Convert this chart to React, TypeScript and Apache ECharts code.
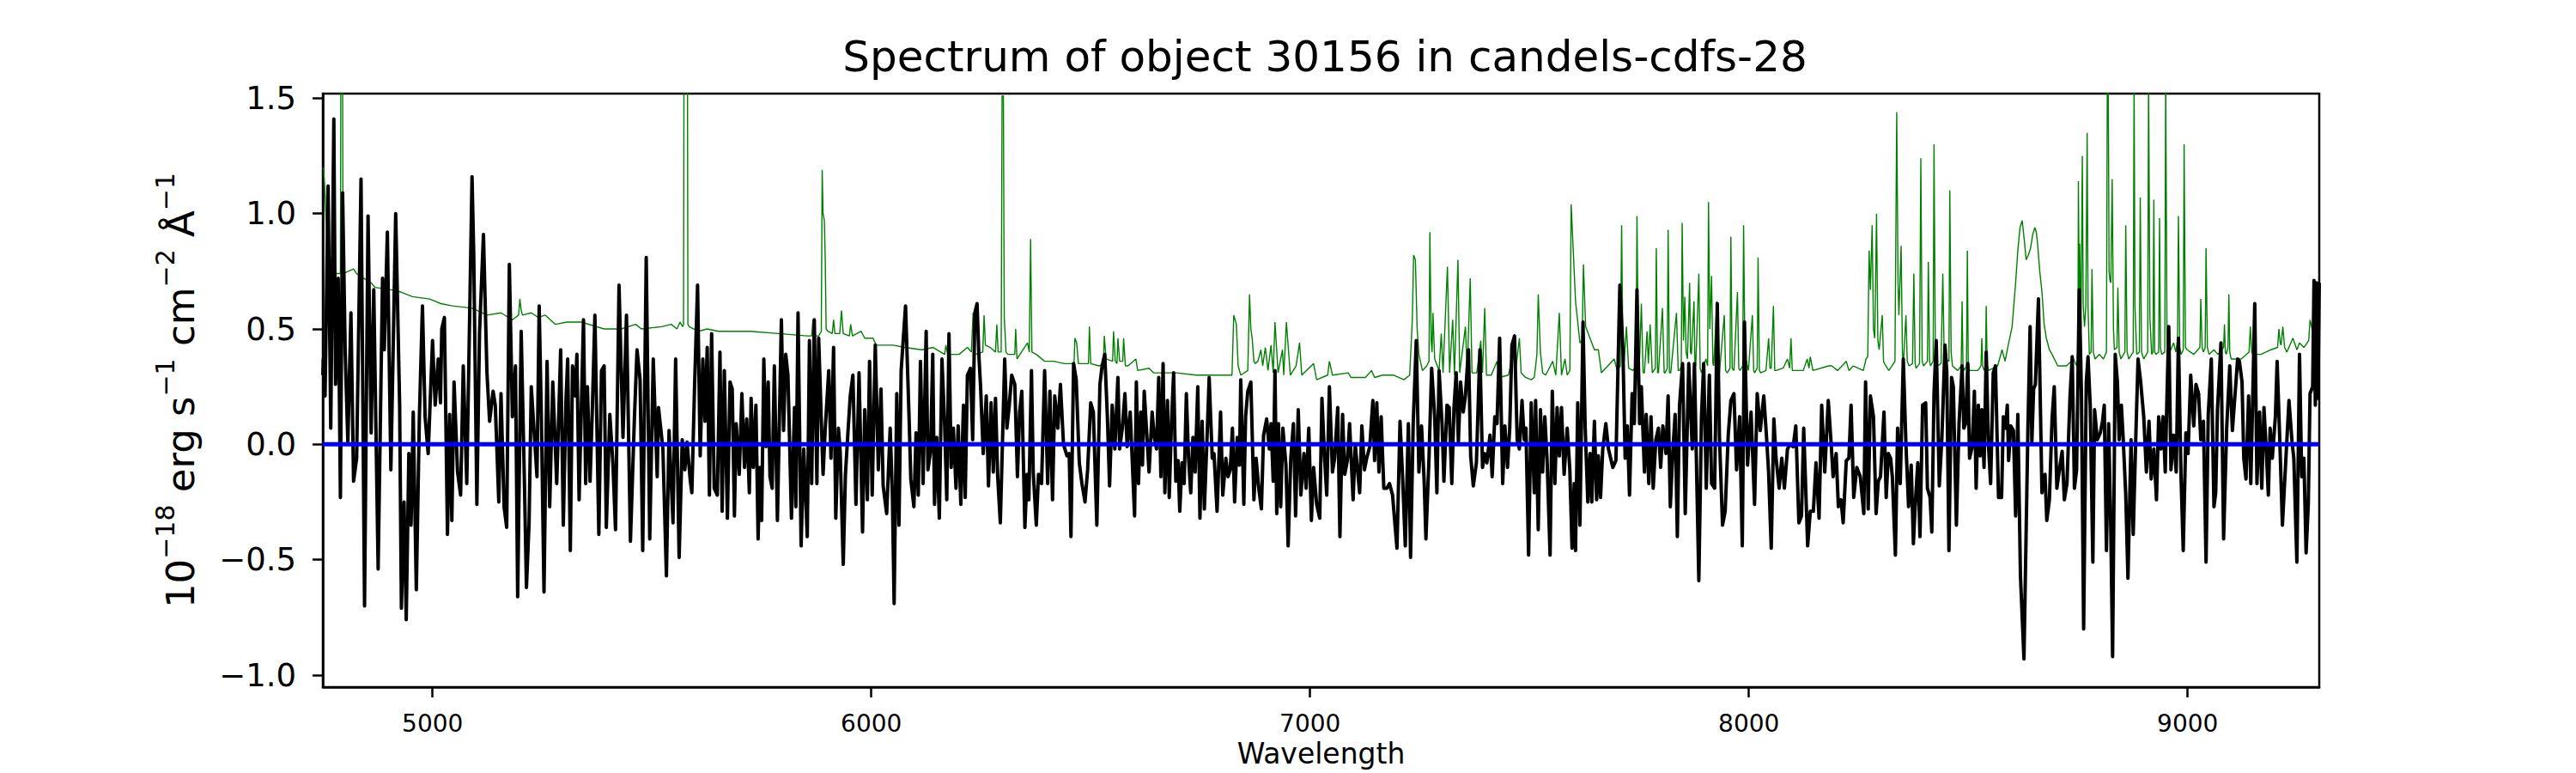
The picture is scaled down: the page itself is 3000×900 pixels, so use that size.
import React, { useEffect, useRef } from "react";
import * as echarts from "echarts";

const FONT = "DejaVu Sans";
const TITLE = "Spectrum of object 30156 in candels-cdfs-28";
const X_NAME = "Wavelength";
const X_MIN = 4750;
const X_MAX = 9300;
const Y_MIN = -1.052;
const Y_MAX = 1.52;
const X_TICKS = [5000, 6000, 7000, 8000, 9000];
const Y_TICKS = [-1, -0.5, 0, 0.5, 1, 1.5];
const ZERO_LEVEL = 0;

// Object spectrum (black), [wavelength, flux]
const objectA: [number, number][] = [
  [4750,0.30],[4751,0.37],[4755,0.21],[4762,1.12],[4768,0.07],[4775,1.41],[4779,0.26],[4785,0.72],[4790,-0.23],[4795,1.09],[4801,0.39],[4807,0.01],[4814,0.57],[4820,-0.16],[4827,-0.06],[4837,1.15],[4845,-0.70],[4853,0.99],[4860,0.05],[4866,0.67],[4876,-0.54],[4886,0.72],[4890,0.41],[4897,0.92],[4905,-0.11],[4910,0.39],[4916,1.00],[4925,0.17],[4929,-0.71],[4935,-0.25],[4940,-0.76],[4946,-0.04],[4951,-0.35],[4956,0.14],[4963,-0.63],[4970,0.12],[4977,0.60],[4983,0.12],[4990,-0.04],[5000,0.45],[5006,0.17],[5013,0.37],[5018,0.18],[5021,0.50],[5027,0.55],[5034,-0.39],[5039,0.13],[5044,-0.33],[5049,0.27],[5057,-0.12],[5064,-0.22],[5070,0.34],[5078,-0.17],[5090,1.16],[5094,0.81],[5101,-0.26],[5107,0.48],[5116,0.91],[5124,0.31],[5130,0.10],[5138,0.23],[5143,0.17],[5151,-0.25],[5156,0.22],[5163,-0.27],[5169,-0.36],[5175,0.78],[5182,0.12],[5189,0.34],[5194,-0.66],[5202,0.49],[5209,-0.13],[5214,-0.62],[5220,-0.34],[5225,0.25],[5231,0.07],[5238,-0.14],[5243,0.60],[5248,0.12],[5254,-0.64],[5261,0.36],[5267,-0.27],[5274,0.27],[5283,-0.17],[5292,0.41],[5298,-0.35],[5304,0.19],[5308,0.37],[5314,-0.46],[5319,0.34],[5325,0.21],[5329,0.39],[5334,-0.24],[5344,0.54],[5349,-0.17],[5353,0.25],[5359,-0.16],[5364,0.14],[5370,0.56],[5379,-0.39],[5385,0.32],[5391,0.34],[5396,-0.36],[5404,0.13],[5411,-0.08],[5417,-0.37],[5425,0.69],[5434,0.03],[5442,0.56],[5451,-0.42],[5460,0.11],[5466,0.41],[5473,0.28],[5479,-0.46],[5487,0.81],[5495,-0.41],[5503,0.37],[5512,-0.14],[5515,0.16],[5525,-0.02],[5533,-0.57],[5539,0.06],[5548,-0.34],[5554,0.37],[5562,-0.49],[5569,0.02],[5575,-0.11],[5580,0.01],[5587,-0.15],[5591,-0.21],[5597,0.24],[5604,0.69],[5610,-0.05],[5616,0.37],[5621,0.10],[5626,0.42],[5631,-0.22],[5636,0.48],[5642,-0.19],[5649,-0.22],[5655,0.40],[5660,-0.29],[5665,0.32],[5672,-0.32],[5678,0.27]
];
const objectB: [number, number][] = [
  [5683,0.24],[5688,-0.31],[5692,0.09],[5699,-0.13],[5705,0.22],[5711,-0.10],[5716,0.11],[5722,-0.21],[5726,0.20],[5731,-0.10],[5737,0.17],[5742,-0.41],[5746,-0.10],[5750,-0.33],[5755,0.37],[5760,-0.01],[5765,0.27],[5769,-0.14],[5774,-0.19],[5779,0.34],[5786,-0.33],[5795,0.54],[5800,0.06],[5805,0.39],[5810,0.30],[5818,-0.32],[5825,0.16],[5828,-0.27],[5833,0.57],[5840,-0.44],[5846,-0.02],[5854,-0.40],[5859,0.45],[5864,-0.17],[5870,0.54],[5876,-0.17],[5880,0.46],[5890,-0.13],[5895,0.07],[5903,0.32],[5908,-0.06],[5914,0.42],[5919,-0.32],[5925,0.07],[5929,-0.03],[5936,-0.52],[5941,-0.13],[5947,0.06],[5952,0.21],[5958,0.30],[5965,-0.26],[5972,0.31],[5980,-0.38],[5985,0.15],[5991,-0.24],[5996,0.36],[6002,-0.22],[6009,0.43],[6016,-0.11],[6022,0.24],[6027,-0.18],[6035,-0.30],[6043,0.07],[6048,-0.22],[6052,-0.69],[6058,0.22],[6063,-0.35],[6068,0.32],[6078,0.60],[6086,0.12],[6090,-0.15],[6097,-0.27],[6102,0.05],[6107,-0.22],[6112,0.36],[6118,-0.17],[6125,0.49],[6129,-0.11],[6135,-0.03],[6140,0.39],[6144,-0.26],[6149,0.03],[6155,-0.32],[6161,0.37],[6167,0.09],[6172,-0.24],[6177,0.48],[6182,-0.10],[6187,0.07],[6193,-0.19],[6198,0.08],[6204,-0.26],[6210,0.17],[6214,-0.23],[6219,0.30],[6226,0.33],[6231,0.02],[6236,0.57],[6241,0.61],[6245,0.39],[6249,0.25],[6255,-0.04],[6262,0.21],[6267,-0.18],[6273,0.18],[6278,-0.12],[6283,0.20],[6288,-0.14],[6294,-0.34],[6304,0.37],[6309,0.07],[6314,0.16],[6320,0.30],[6327,0.26],[6333,-0.14],[6338,0.14],[6343,0.23],[6350,-0.36],[6355,-0.13],[6359,-0.24],[6365,0.32],[6369,-0.12],[6376,-0.35],[6381,-0.13],[6388,-0.17],[6395,0.32],[6402,-0.17],[6407,0.23],[6413,-0.24],[6418,0.21],[6425,0.07],[6431,0.26],[6438,0.00],[6446,-0.05],[6451,-0.04],[6455,-0.40],[6461,0.35],[6467,0.28],[6474,-0.08],[6480,-0.17],[6487,-0.25],[6493,-0.11],[6500,0.18],[6506,0.14],[6514,-0.35],[6521,0.26],[6526,0.34],[6532,0.39],[6538,0.12],[6543,-0.18],[6549,0.17],[6555,-0.02],[6562,0.29],[6566,-0.02],[6572,0.07],[6578,0.22],[6583,-0.01],[6590,0.14]
];
const objectC: [number, number][] = [
  [6600,-0.31],[6604,0.27],[6609,-0.17],[6614,0.14],[6618,-0.09],[6622,0.23],[6627,0.07],[6633,-0.12],[6640,0.14],[6645,0.03],[6650,-0.02],[6655,0.29],[6660,-0.14],[6665,0.35],[6669,-0.21],[6675,0.19],[6679,-0.23],[6684,0.09],[6689,0.31],[6694,-0.16],[6699,-0.07],[6703,-0.29],[6708,-0.08],[6713,-0.17],[6718,0.22],[6723,-0.06],[6728,-0.21],[6733,0.03],[6738,-0.12],[6744,0.25],[6749,-0.32],[6754,0.10],[6759,-0.28],[6765,0.02],[6770,0.29],[6777,-0.06],[6781,-0.04],[6788,-0.29],[6796,0.14],[6801,-0.22],[6808,-0.06],[6813,-0.14],[6818,-0.11],[6823,0.07],[6828,-0.25],[6834,0.03],[6839,-0.09],[6842,0.28],[6849,-0.26],[6853,0.12],[6858,0.23],[6865,0.27],[6872,-0.24],[6877,-0.06],[6883,-0.19],[6889,-0.28],[6894,0.04],[6901,0.11],[6907,-0.02],[6911,0.09],[6916,-0.16],[6920,0.32],[6924,-0.30],[6928,0.09],[6933,-0.27],[6938,0.07],[6945,-0.09],[6950,-0.44],[6956,-0.06],[6962,0.09],[6967,-0.31],[6973,0.15],[6979,-0.22],[6986,-0.04],[6991,-0.19],[6997,0.07],[7003,-0.33],[7008,-0.10],[7015,-0.26],[7022,-0.32],[7027,0.20],[7033,-0.06],[7038,-0.22],[7044,0.25],[7051,-0.12],[7056,-0.06],[7063,0.16],[7068,-0.40],[7074,0.13],[7079,-0.13],[7085,-0.07],[7090,0.09],[7098,-0.24],[7103,0.00],[7108,-0.11],[7113,-0.21],[7118,0.08],[7124,-0.11],[7129,-0.06],[7136,-0.01],[7143,0.19],[7147,-0.07],[7152,0.18],[7157,-0.12],[7162,0.12],[7168,-0.19],[7175,-0.19],[7181,-0.17],[7188,-0.22],[7191,-0.29],[7198,-0.45],[7205,0.10],[7211,-0.15],[7217,-0.44],[7224,0.09],[7229,-0.49],[7235,0.09],[7242,0.45],[7248,-0.12],[7254,0.08],[7260,-0.16],[7264,-0.41],[7271,-0.06],[7277,0.33],[7284,0.12],[7289,-0.21],[7294,0.32],[7301,0.08],[7305,-0.16],[7312,0.17],[7317,0.16],[7323,-0.17],[7328,0.16],[7333,0.31],[7338,0.01],[7343,0.27],[7349,0.14],[7354,0.21],[7361,0.41],[7366,-0.05],[7372,-0.18],[7379,-0.08],[7387,0.41],[7393,-0.10],[7398,-0.04],[7403,-0.08],[7410,0.04],[7415,-0.14],[7421,0.12],[7426,0.09],[7432,0.46],[7439,-0.17],[7444,0.08],[7450,-0.10],[7455,0.07],[7460,0.43],[7466,0.47],[7472,0.02],[7477,-0.02],[7483,0.19],[7488,0.02],[7492,0.07],[7498,-0.48],[7504,0.18],[7511,-0.21]
];
const objectD: [number, number][] = [
  [7514,0.19],[7520,-0.37],[7525,0.15],[7530,-0.12],[7535,0.12],[7540,-0.06],[7547,-0.48],[7552,0.23],[7558,-0.17],[7563,0.16],[7568,-0.05],[7573,0.16],[7579,-0.13],[7586,0.07],[7592,-0.11],[7597,-0.45],[7602,-0.17],[7605,-0.46],[7610,0.18],[7615,-0.35],[7622,0.53],[7627,0.07],[7633,-0.25],[7638,-0.04],[7642,-0.25],[7648,0.10],[7653,-0.24],[7657,-0.05],[7662,-0.23],[7667,-0.02],[7674,0.09],[7680,-0.02],[7690,-0.10],[7697,-0.07],[7706,0.69],[7713,0.41],[7718,-0.06],[7723,0.08],[7728,-0.22],[7734,0.22],[7739,0.09],[7745,0.67],[7751,0.09],[7755,0.25],[7762,-0.12],[7766,0.13],[7772,-0.17],[7777,0.12],[7782,-0.19],[7788,0.02],[7794,0.07],[7799,-0.10],[7804,0.08],[7811,-0.04],[7816,0.21],[7821,-0.27],[7827,-0.02],[7832,0.13],[7837,-0.40],[7842,0.17],[7849,0.35],[7855,-0.30],[7863,0.35],[7871,-0.02],[7876,0.35],[7886,-0.59],[7892,0.12],[7897,0.35],[7903,-0.19],[7910,0.30],[7915,-0.17],[7922,-0.19],[7928,0.61],[7933,0.03],[7940,-0.35],[7946,-0.29],[7953,0.04],[7959,0.19],[7966,0.22],[7972,-0.11],[7979,0.12],[7985,-0.44],[7990,0.53],[7997,-0.09],[8005,0.14],[8013,-0.26],[8019,0.22],[8026,0.06],[8034,0.21],[8040,0.04],[8045,-0.12],[8051,-0.45],[8057,0.11],[8062,-0.06],[8069,-0.19],[8075,-0.06],[8081,-0.19],[8088,-0.02],[8094,0.00],[8101,-0.01],[8107,0.08],[8114,-0.34],[8120,-0.31],[8125,0.07],[8134,-0.44],[8140,-0.29],[8147,-0.29],[8153,-0.08],[8160,-0.32],[8166,0.17],[8173,-0.12],[8181,0.19],[8188,-0.01],[8192,-0.14],[8199,-0.04],[8204,-0.27],[8210,-0.24],[8215,-0.34],[8222,-0.07],[8228,-0.06],[8233,0.17],[8239,-0.23],[8246,-0.10],[8254,-0.14],[8262,-0.30],[8266,0.27],[8272,-0.28],[8277,0.21],[8284,0.12],[8290,-0.30],[8295,-0.16],[8300,-0.14],[8308,0.14],[8313,-0.23],[8318,-0.04],[8323,-0.06],[8327,-0.14],[8334,-0.48],[8339,0.07],[8345,-0.17],[8352,0.37],[8358,0.00],[8364,-0.27],[8370,-0.09],[8375,-0.43],[8379,-0.27],[8385,-0.08],[8390,-0.40],[8396,0.17],[8403,0.18],[8407,-0.19],[8413,-0.23],[8417,-0.38],[8422,0.22],[8427,0.45],[8434,-0.18]
];
const objectE: [number, number][] = [
  [8440,0.03],[8447,0.43],[8451,0.32],[8456,-0.46],[8462,0.29],[8466,0.25],[8473,-0.35],[8479,0.09],[8486,0.34],[8490,0.07],[8494,0.09],[8499,0.35],[8503,-0.06],[8509,-0.01],[8514,0.23],[8518,-0.19],[8523,0.17],[8527,-0.05],[8531,0.15],[8536,-0.10],[8541,0.40],[8546,0.00],[8551,-0.17],[8557,0.31],[8562,0.34],[8569,-0.23],[8576,-0.23],[8580,0.12],[8585,0.07],[8589,0.17],[8592,-0.07],[8597,0.08],[8603,0.06],[8608,-0.31],[8613,0.13],[8619,-0.57],[8627,-0.93],[8636,0.07],[8641,0.51],[8645,0.01],[8649,0.24],[8653,0.26],[8660,0.63],[8668,-0.21],[8675,-0.13],[8679,-0.33],[8685,-0.24],[8691,0.11],[8696,0.25],[8702,-0.19],[8707,-0.12],[8714,-0.03],[8719,-0.24],[8725,-0.17],[8732,0.21],[8737,0.38],[8742,-0.19],[8747,-0.11],[8753,0.67],[8758,0.22],[8763,-0.80],[8769,0.27],[8773,0.38],[8778,0.17],[8784,-0.51],[8788,0.15],[8794,0.02],[8801,0.05],[8806,0.10],[8810,0.17],[8815,-0.46],[8820,0.09],[8825,-0.38],[8829,-0.92],[8835,0.39],[8840,0.27],[8844,0.02],[8849,0.17],[8853,0.03],[8859,-0.22],[8864,-0.58],[8871,0.02],[8876,-0.39],[8882,0.04],[8887,0.37],[8893,0.27],[8900,0.12],[8906,-0.12],[8912,0.10],[8917,-0.15],[8923,-0.02],[8929,-0.24],[8934,0.12],[8939,-0.02],[8944,0.12],[8949,-0.12],[8953,0.21],[8957,0.51],[8962,-0.11],[8968,0.04],[8974,-0.12],[8979,0.46],[8985,-0.14],[8990,-0.46],[8996,0.05],[9001,-0.04],[9007,0.30],[9014,0.08],[9019,0.26],[9025,0.22],[9030,0.02],[9036,0.10],[9042,-0.51],[9047,0.13],[9054,0.37],[9060,-0.27],[9064,-0.21],[9068,0.15],[9076,0.44],[9082,-0.41],[9089,0.07],[9096,0.34],[9102,0.06],[9107,0.19],[9114,0.37],[9118,0.36],[9124,0.27],[9128,-0.06],[9133,-0.15],[9139,0.21],[9144,-0.17],[9153,0.61],[9158,-0.17],[9164,0.14],[9169,-0.19],[9174,0.16],[9179,-0.02],[9184,-0.22],[9188,0.07],[9193,-0.06],[9200,0.12],[9204,0.36],[9210,0.02],[9216,-0.35],[9224,-0.06],[9231,0.19],[9238,0.01],[9242,-0.06],[9249,-0.51],[9255,0.39],[9260,-0.14],[9265,-0.06],[9270,-0.47],[9275,-0.26],[9279,0.22],[9285,0.25],[9288,0.71],[9291,0.17],[9294,0.70],[9297,0.20],[9300,0.70]
];

// Sky / noise spectrum (green), [wavelength, flux]
const skyA: [number, number][] = [
  [4750,1.20],[4752,1.19],[4755,1.09],[4760,0.85],[4765,0.74],[4790,0.74],[4791,1.6],[4795,1.6],[4796,0.74],[4820,0.76],[4827,0.74],[4843,0.72],[4860,0.70],[4869,0.68],[4905,0.67],[4928,0.66],[4954,0.64],[4993,0.63],[5019,0.61],[5045,0.60],[5091,0.59],[5124,0.56],[5156,0.57],[5182,0.54],[5196,0.56],[5199,0.63],[5202,0.58],[5205,0.56],[5225,0.57],[5241,0.55],[5257,0.56],[5280,0.52],[5306,0.53],[5339,0.53],[5391,0.50],[5430,0.50],[5463,0.52],[5476,0.50],[5522,0.51],[5544,0.52],[5557,0.50],[5564,0.53],[5570,0.51],[5572,0.52],[5573,1.6],[5581,1.6],[5582,0.52],[5585,0.51],[5606,0.49],[5626,0.50],[5652,0.49]
];
const skyB: [number, number][] = [
  [5724,0.49],[5789,0.48],[5854,0.47],[5864,0.47],[5867,0.54],[5870,0.47],[5880,0.47],[5886,0.49],[5888,1.19],[5890,1.0],[5893,0.97],[5895,0.80],[5897,0.50],[5901,0.49],[5911,0.48],[5914,0.54],[5917,0.48],[5928,0.48],[5932,0.58],[5936,0.48],[5950,0.47],[5953,0.52],[5957,0.47],[5977,0.49],[5985,0.46],[6004,0.46],[6011,0.43],[6050,0.43],[6076,0.42],[6115,0.41],[6141,0.42],[6167,0.39],[6170,0.43],[6174,0.39],[6200,0.39],[6219,0.42],[6228,0.40],[6232,0.57],[6236,0.39],[6254,0.40],[6257,0.56],[6260,0.43],[6271,0.42],[6283,0.40],[6286,0.52],[6289,0.40],[6296,0.40],[6298,1.51],[6301,1.51],[6303,0.55],[6307,0.40],[6311,0.39],[6327,0.39],[6329,0.50],[6332,0.37],[6356,0.44],[6360,0.40],[6363,0.89],[6366,0.40],[6376,0.39],[6395,0.36],[6415,0.36],[6441,0.35],[6462,0.35],[6464,0.46],[6468,0.44],[6472,0.35],[6495,0.35],[6497,0.51],[6500,0.35],[6519,0.34],[6529,0.35],[6531,0.47],[6535,0.37],[6550,0.36],[6552,0.49],[6556,0.36],[6560,0.35],[6562,0.46],[6566,0.36],[6573,0.36],[6575,0.46],[6579,0.34],[6585,0.34]
];
const skyC: [number, number][] = [
  [6603,0.37],[6607,0.32],[6633,0.33],[6643,0.31],[6663,0.31],[6695,0.31],[6741,0.30],[6774,0.30],[6822,0.30],[6826,0.56],[6829,0.54],[6832,0.52],[6836,0.34],[6842,0.30],[6858,0.32],[6862,0.65],[6865,0.50],[6868,0.46],[6872,0.36],[6875,0.35],[6881,0.36],[6888,0.41],[6892,0.34],[6898,0.42],[6904,0.32],[6911,0.43],[6916,0.31],[6920,0.53],[6927,0.31],[6937,0.41],[6940,0.30],[6946,0.53],[6955,0.30],[6968,0.34],[6976,0.44],[6981,0.30],[7008,0.35],[7015,0.28],[7040,0.30],[7044,0.36],[7051,0.30],[7087,0.31],[7093,0.29],[7126,0.29],[7140,0.32],[7147,0.29],[7165,0.30],[7191,0.30],[7214,0.28],[7227,0.30],[7233,0.54],[7236,0.82],[7240,0.80],[7244,0.50],[7248,0.39],[7256,0.32],[7266,0.34],[7271,0.36],[7273,0.92],[7276,0.45],[7278,0.40],[7280,0.57],[7284,0.37],[7294,0.32],[7299,0.48],[7303,0.31],[7313,0.77],[7318,0.31],[7325,0.54],[7329,0.30],[7337,0.80],[7341,0.31],[7354,0.51],[7358,0.31],[7365,0.72],[7369,0.31],[7380,0.31],[7389,0.45],[7393,0.31],[7398,0.59],[7402,0.30],[7413,0.30],[7426,0.36],[7431,0.29],[7452,0.30],[7464,0.41],[7468,0.31],[7477,0.46],[7481,0.31],[7491,0.29],[7504,0.28]
];
const skyD: [number, number][] = [
  [7511,0.29],[7517,0.39],[7520,0.65],[7525,0.40],[7530,0.31],[7537,0.30],[7553,0.36],[7560,0.30],[7568,0.57],[7573,0.30],[7581,0.37],[7586,0.30],[7592,0.32],[7595,1.04],[7600,0.83],[7605,0.62],[7615,0.44],[7620,0.45],[7623,0.78],[7628,0.51],[7638,0.46],[7648,0.41],[7657,0.41],[7664,0.31],[7693,0.37],[7700,0.32],[7707,0.34],[7710,0.95],[7713,0.40],[7716,0.36],[7721,0.51],[7726,0.33],[7736,0.32],[7743,0.34],[7745,0.99],[7748,0.40],[7751,0.37],[7755,0.61],[7759,0.31],[7762,0.31],[7768,0.49],[7771,0.35],[7775,0.52],[7780,0.31],[7787,0.33],[7789,0.85],[7792,0.31],[7794,0.31],[7803,0.59],[7807,0.31],[7809,0.31],[7814,0.33],[7816,0.93],[7819,0.31],[7822,0.31],[7835,0.57],[7839,0.32],[7842,0.32],[7846,0.34],[7848,0.96],[7851,0.45],[7854,0.64],[7857,0.40],[7860,0.37],[7865,0.70],[7867,0.40],[7869,0.39],[7875,0.62],[7877,0.36],[7879,0.34],[7886,0.74],[7889,0.33],[7892,0.31],[7902,0.37],[7906,0.34],[7908,1.05],[7911,0.50],[7915,0.73],[7918,0.35],[7920,0.34],[7927,0.62],[7930,0.32],[7933,0.31],[7944,0.56],[7947,0.32],[7951,0.31],[7957,0.33],[7959,0.90],[7962,0.33],[7966,0.32],[7974,0.66],[7977,0.33],[7980,0.32],[7986,0.34],[7988,0.95],[7991,0.40],[7993,0.37],[7999,0.32],[8008,0.56],[8011,0.32],[8013,0.31],[8019,0.33],[8021,0.81],[8024,0.32],[8027,0.31],[8039,0.32],[8045,0.46],[8048,0.33],[8051,0.33],[8056,0.60],[8059,0.32],[8062,0.32],[8078,0.33],[8088,0.37],[8093,0.33],[8096,0.46],[8099,0.32],[8101,0.32],[8124,0.32],[8133,0.37],[8137,0.33],[8140,0.38],[8146,0.32],[8182,0.34],[8189,0.34],[8202,0.32],[8222,0.36],[8228,0.32],[8238,0.34],[8261,0.32],[8267,0.37],[8271,0.38],[8274,0.84],[8277,0.67],[8281,0.95],[8284,0.50],[8287,0.46],[8291,1.00],[8294,0.45],[8297,0.41],[8304,0.56],[8307,0.36],[8309,0.35],[8319,0.32],[8326,0.34],[8333,0.36],[8337,1.44],[8340,0.70],[8342,0.56],[8347,0.86],[8350,0.40],[8352,0.34],[8358,0.56],[8361,0.36],[8365,0.34],[8373,0.35],[8376,0.74],[8379,0.35],[8381,0.33],[8389,0.35],[8392,1.24],[8395,0.36],[8398,0.34],[8407,0.36],[8409,0.79],[8412,0.36],[8414,0.34],[8420,0.36],[8422,1.30],[8425,0.40],[8429,0.34]
];
const skyE: [number, number][] = [
  [8438,0.35],[8442,0.74],[8445,0.40],[8449,0.37],[8456,0.36],[8458,1.10],[8461,0.40],[8464,0.34],[8476,0.32],[8484,0.34],[8486,0.62],[8488,0.34],[8490,0.32],[8496,0.34],[8498,0.84],[8500,0.36],[8503,0.32],[8522,0.32],[8529,0.34],[8531,0.46],[8533,0.34],[8536,0.32],[8539,0.33],[8541,0.60],[8543,0.35],[8546,0.32],[8567,0.34],[8577,0.41],[8584,0.36],[8590,0.42],[8600,0.51],[8608,0.70],[8613,0.84],[8618,0.94],[8623,0.97],[8628,0.88],[8632,0.80],[8637,0.82],[8642,0.85],[8647,0.91],[8652,0.94],[8655,0.92],[8658,0.87],[8663,0.75],[8668,0.66],[8673,0.52],[8678,0.46],[8685,0.41],[8691,0.39],[8704,0.34],[8724,0.34],[8740,0.37],[8747,0.34],[8750,0.40],[8751,1.14],[8753,0.60],[8754,0.87],[8757,0.50],[8760,1.25],[8762,0.60],[8765,0.51],[8768,0.60],[8771,1.35],[8773,0.60],[8776,0.39],[8780,0.40],[8782,0.76],[8785,0.40],[8789,0.37],[8799,0.39],[8808,0.37],[8815,0.40],[8817,1.6],[8819,1.6],[8821,0.75],[8823,0.71],[8825,0.70],[8828,1.15],[8831,0.50],[8833,0.41],[8839,0.42],[8841,0.68],[8844,0.40],[8848,0.37],[8857,0.40],[8859,0.95],[8862,0.40],[8866,0.37],[8876,0.40],[8878,1.6],[8880,0.60],[8884,0.39],[8890,0.40],[8892,1.07],[8895,0.40],[8900,0.37],[8909,0.40],[8911,1.6],[8914,0.55],[8918,0.39],[8921,0.40],[8923,1.06],[8925,0.40],[8928,0.39],[8934,0.40],[8936,0.98],[8938,0.42],[8941,0.39],[8948,0.40],[8950,1.6],[8953,0.45],[8957,0.39],[8968,0.44],[8973,0.40],[8977,0.45],[8979,0.99],[8982,0.42],[8985,0.39],[8990,0.41],[8992,1.30],[8995,0.42],[8999,0.41],[9014,0.39],[9028,0.42],[9030,0.63],[9033,0.42],[9036,0.40],[9040,0.42],[9042,0.85],[9045,0.42],[9049,0.39],[9060,0.41],[9069,0.39],[9082,0.42],[9084,0.52],[9086,0.40],[9088,0.39],[9092,0.42],[9094,0.65],[9096,0.40],[9099,0.37],[9122,0.37],[9140,0.40],[9143,0.51],[9146,0.40],[9149,0.39],[9167,0.39],[9190,0.41],[9205,0.42],[9208,0.50],[9211,0.44],[9213,0.43],[9217,0.51],[9221,0.42],[9226,0.40],[9240,0.46],[9249,0.41],[9255,0.44],[9265,0.42],[9276,0.45],[9279,0.54],[9285,0.49],[9291,0.57],[9300,0.56]
];

const objectSpectrum = [...objectA, ...objectB, ...objectC, ...objectD, ...objectE];
const skySpectrum = [...skyA, ...skyB, ...skyC, ...skyD, ...skyE];
const zeroLine: [number, number][] = [[X_MIN, ZERO_LEVEL], [X_MAX, ZERO_LEVEL]];

const fmtY = (v: number) => (v < 0 ? "\u2212" : "") + Math.abs(v).toFixed(1);
const fmtX = (v: number) => String(Math.round(v));

export default function App() {
  const ref = useRef<HTMLDivElement>(null);
  useEffect(() => {
    if (!ref.current) return;
    const chart = echarts.init(ref.current, null, { renderer: "svg" });
    chart.setOption({
      animation: false,
      backgroundColor: "#ffffff",
      textStyle: { fontFamily: FONT },
      title: {
        text: TITLE,
        left: 1538,
        top: 36,
        textAlign: "center",
        textStyle: { fontFamily: FONT, fontSize: 50, fontWeight: "normal", color: "#000" },
      },
      grid: {
        left: 376,
        top: 109,
        width: 2325,
        height: 691,
        show: true,
        borderColor: "#000",
        borderWidth: 2.5,
        backgroundColor: "transparent",
        containLabel: false,
        outerBoundsMode: "none",
      },
      xAxis: {
        type: "value",
        min: X_MIN,
        max: X_MAX,
        name: X_NAME,
        nameLocation: "middle",
        nameGap: 59,
        nameTextStyle: { fontFamily: FONT, fontSize: 33, color: "#000" },
        axisLine: { show: true, onZero: false, lineStyle: { color: "#000", width: 2.5 } },
        axisTick: { show: true, customValues: X_TICKS, length: 12, lineStyle: { color: "#000", width: 2.5 } },
        axisLabel: { customValues: X_TICKS, formatter: fmtX, fontFamily: FONT, fontSize: 28, color: "#000", margin: 28 },
        splitLine: { show: false },
      },
      yAxis: {
        type: "value",
        min: Y_MIN,
        max: Y_MAX,
        axisLine: { show: true, onZero: false, lineStyle: { color: "#000", width: 2.5 } },
        axisTick: { show: true, customValues: Y_TICKS, length: 12, lineStyle: { color: "#000", width: 2.5 } },
        axisLabel: { customValues: Y_TICKS, formatter: fmtY, fontFamily: FONT, fontSize: 37, color: "#000", margin: 31 },
        splitLine: { show: false },
      },
      graphic: [
        {
          type: "text",
          x: 205,
          y: 454.5,
          rotation: Math.PI / 2,
          silent: true,
          style: {
            text: "{n|10}{s|\u221218}{n| erg s}{s|\u22121}{n| cm}{s|\u22122}{n| \u00c5}{s|\u22121}",
            align: "center",
            verticalAlign: "middle",
            fill: "#000",
            rich: {
              n: { fontFamily: FONT, fontSize: 45, lineHeight: 56, verticalAlign: "bottom", fill: "#000" },
              s: { fontFamily: FONT, fontSize: 30, lineHeight: 30, verticalAlign: "top", fill: "#000" },
            },
          },
        },
      ],
      series: [
        {
          type: "line",
          name: "sky",
          data: skySpectrum,
          showSymbol: false,
          symbol: "none",
          clip: true,
          silent: true,
          z: 2,
          lineStyle: { color: "#008000", width: 1.4 },
        },
        {
          type: "line",
          name: "object",
          data: objectSpectrum,
          showSymbol: false,
          symbol: "none",
          clip: true,
          silent: true,
          z: 3,
          lineStyle: { color: "#000000", width: 4, join: "round" },
        },
        {
          type: "line",
          name: "zero",
          data: zeroLine,
          showSymbol: false,
          symbol: "none",
          silent: true,
          z: 4,
          lineStyle: { color: "#0000ff", width: 5 },
        },
      ],
    });
    return () => chart.dispose();
  }, []);
  return (
    <div
      ref={ref}
      style={{ position: "fixed", left: 0, top: 0, width: 3000, height: 900, background: "#fff" }}
    />
  );
}
